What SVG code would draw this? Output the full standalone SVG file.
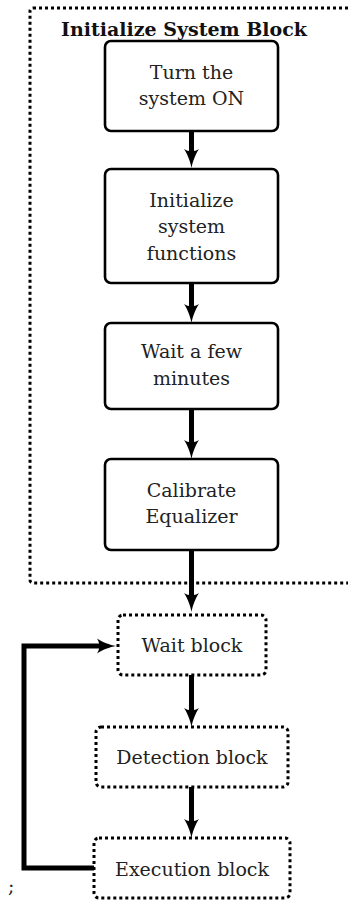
<svg xmlns="http://www.w3.org/2000/svg" width="348" height="903" viewBox="0 0 348 903">
<style>
.bg{fill:#ffffff}
.node{fill:#ffffff;stroke:#000;stroke-width:2.6}
.dnode{fill:#ffffff;stroke:#000;stroke-width:3;stroke-dasharray:3 3}
.outer{fill:none;stroke:#000;stroke-width:3;stroke-dasharray:3 3}
.edge{fill:none;stroke:#000;stroke-width:5;marker-end:url(#arr)}
.t{font-family:"DejaVu Serif","Liberation Serif",serif;font-size:19px;fill:#222;text-anchor:middle}
.title{font-family:"DejaVu Serif","Liberation Serif",serif;font-size:19px;font-weight:bold;fill:#111;text-anchor:middle}
</style>
<defs>
<marker id="arr" markerUnits="userSpaceOnUse" markerWidth="22" markerHeight="16" viewBox="0 0 22 16" refX="8" refY="8" orient="auto">
<path d="M20,8 C14,9 6,12 1,15.5 C4,11 4,5 1,0.5 C6,4 14,7 20,8 Z" fill="#000"/>
</marker>
</defs>
<rect class="bg" x="0" y="0" width="348" height="903"/>
<g id="initialize-system-block">
<rect class="outer" x="30" y="8" width="340" height="575" rx="3"/>
<text class="title" x="184" y="36">Initialize System Block</text>
</g>
<g id="connectors">
<line class="edge" x1="191.5" y1="131" x2="191.5" y2="156"/>
<line class="edge" x1="191.5" y1="283" x2="191.5" y2="311"/>
<line class="edge" x1="191.5" y1="409" x2="191.5" y2="447"/>
<line class="edge" x1="191.5" y1="550" x2="191.5" y2="600"/>
<line class="edge" x1="191.5" y1="675" x2="191.5" y2="715"/>
<line class="edge" x1="191.5" y1="787" x2="191.5" y2="826"/>
<path class="edge" d="M94,868 H24 V646 H104"/>
</g>
<g id="turn-on">
<rect class="node" x="105" y="41" width="173" height="90" rx="6"/>
<text class="t" x="191.5" y="79">Turn the</text>
<text class="t" x="191.5" y="105">system ON</text>
</g>
<g id="init-functions">
<rect class="node" x="105" y="169" width="173" height="114" rx="6"/>
<text class="t" x="191.5" y="207">Initialize</text>
<text class="t" x="191.5" y="233">system</text>
<text class="t" x="191.5" y="260">functions</text>
</g>
<g id="wait-minutes">
<rect class="node" x="105" y="323" width="173" height="86" rx="6"/>
<text class="t" x="191.5" y="358">Wait a few</text>
<text class="t" x="191.5" y="385">minutes</text>
</g>
<g id="calibrate">
<rect class="node" x="105" y="459" width="173" height="91" rx="6"/>
<text class="t" x="191.5" y="497">Calibrate</text>
<text class="t" x="191.5" y="523">Equalizer</text>
</g>
<g id="wait-block">
<rect class="dnode" x="118" y="615" width="148" height="60" rx="5"/>
<text class="t" x="192" y="652">Wait block</text>
</g>
<g id="detection-block">
<rect class="dnode" x="96" y="727" width="192" height="60" rx="5"/>
<text class="t" x="192" y="764">Detection block</text>
</g>
<g id="execution-block">
<rect class="dnode" x="94" y="838" width="196" height="60" rx="5"/>
<text class="t" x="192" y="876">Execution block</text>
</g>
<text x="8" y="893" style="font-family:'DejaVu Serif',serif;font-size:19px;fill:#222">;</text>
</svg>
